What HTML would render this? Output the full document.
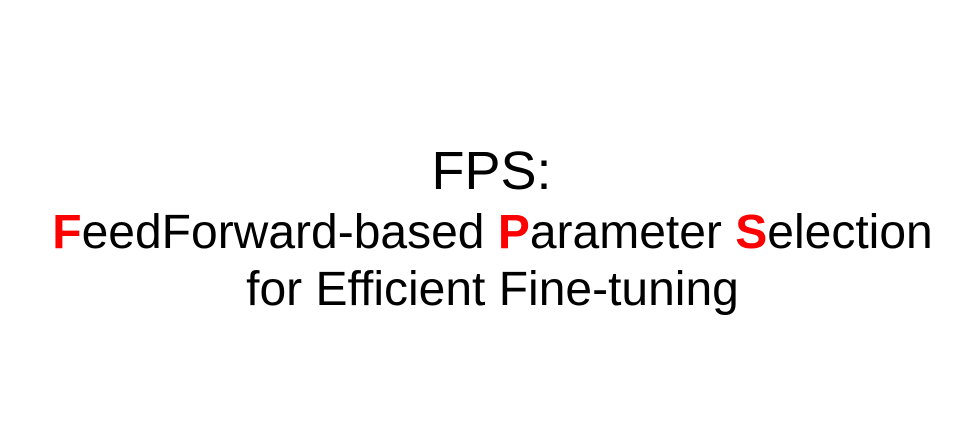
<!DOCTYPE html>
<html><head><style>
html,body{margin:0;padding:0;background:#fff;}
body{width:977px;height:432px;position:relative;overflow:hidden;font-family:"Liberation Sans",Arial,sans-serif;color:#000;}
.l{position:absolute;left:0;width:977px;text-align:center;white-space:nowrap;}
.r{color:#f00;font-weight:bold;}
</style></head><body>
<div class="l" style="top:141px;font-size:54px;line-height:60px;left:3px;">FPS:</div>
<div class="l" style="top:206px;font-size:48px;line-height:54px;left:4px;"><span class="r">F</span>eedForward-based <span class="r">P</span>arameter <span class="r">S</span>election</div>
<div class="l" style="top:263px;font-size:48px;line-height:54px;left:4px;">for Efficient Fine-tuning</div>
</body></html>
